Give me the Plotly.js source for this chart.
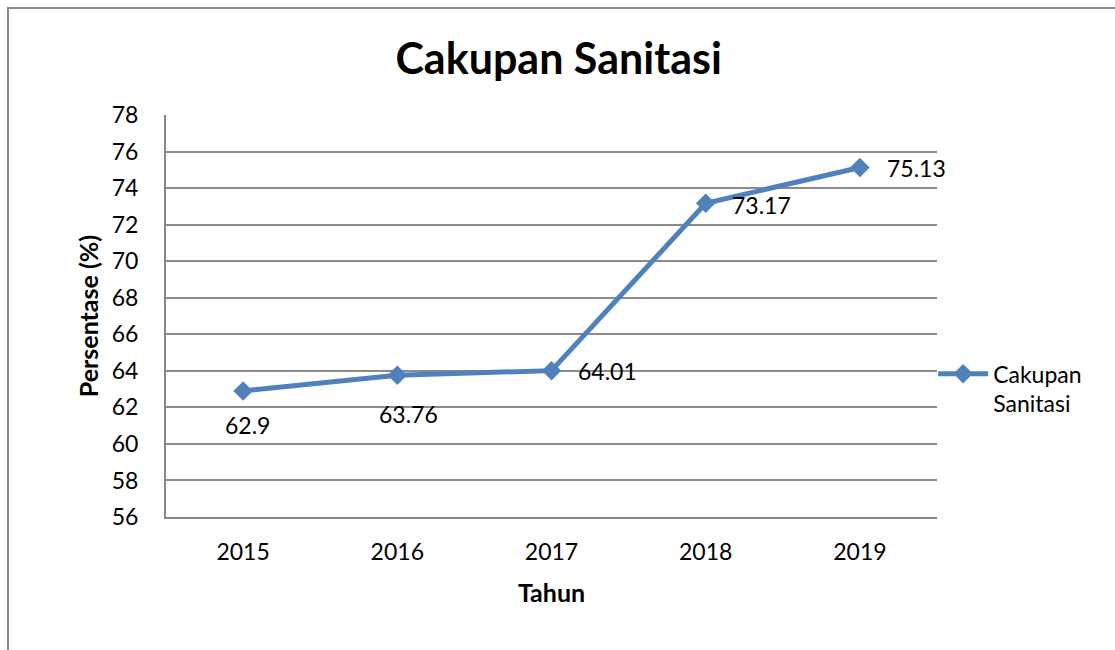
<!DOCTYPE html>
<html>
<head>
<meta charset="utf-8">
<script src="https://cdn.plot.ly/plotly-3.0.1.min.js"></script>
<style>
  html, body { margin: 0; padding: 0; background: #fff; }
  #wrap { position: relative; width: 1115px; height: 650px; }
  #frame { position: absolute; left: 7px; top: 7px; width: 1108px; height: 643px;
           border-left: 2px solid #888; border-top: 2px solid #888; box-sizing: border-box; pointer-events: none; z-index: 5; }
  #chart { position: absolute; left: 0; top: 0; width: 1115px; height: 650px; }
</style>
</head>
<body>
<div id="wrap">
  <div id="chart"></div>
  <div id="frame"></div>
</div>
<script>
const years = ['2015', '2016', '2017', '2018', '2019'];
const coverage = [62.9, 63.76, 64.01, 73.17, 75.13];
const seriesName = 'Cakupan<br>Sanitasi';
const yTicks = [56, 58, 60, 62, 64, 66, 68, 70, 72, 74, 76, 78];

// label placement (style only): anchor + pixel shifts
const labelStyle = [
  { xanchor: 'center', xshift: 4,  yshift: -34 },
  { xanchor: 'center', xshift: 11, yshift: -39 },
  { xanchor: 'left',   xshift: 24, yshift: 0 },
  { xanchor: 'left',   xshift: 24, yshift: -2 },
  { xanchor: 'left',   xshift: 25, yshift: -1 }
];

const font = 'Lato, "Open Sans", sans-serif';

const trace = {
  x: years,
  y: coverage,
  type: 'scatter',
  mode: 'lines+markers',
  name: seriesName,
  line: { color: '#4F81BD', width: 5 },
  marker: { symbol: 'diamond', size: 15, color: '#4F81BD' },
  cliponaxis: false
};

// category axis: annotation x is the category index of each year
const annotations = years.map((yr, i) => ({
  x: i,
  y: coverage[i],
  xref: 'x', yref: 'y',
  text: String(coverage[i]),
  showarrow: false,
  xanchor: labelStyle[i].xanchor,
  yanchor: 'middle',
  xshift: labelStyle[i].xshift,
  yshift: labelStyle[i].yshift,
  font: { family: font, size: 23, color: '#000' }
}));

const layout = {
  width: 1115,
  height: 650,
  margin: { l: 166, r: 178, t: 115, b: 133 },
  paper_bgcolor: '#fff',
  plot_bgcolor: '#fff',
  font: { family: font, size: 23, color: '#000' },
  title: {
    text: '<b>Cakupan Sanitasi</b>',
    font: { family: font, size: 43, color: '#000' },
    x: 0.501, xanchor: 'center',
    y: 0.91, yanchor: 'middle'
  },
  annotations: annotations,
  xaxis: {
    type: 'category',
    categoryarray: years,
    range: [-0.5, 4.5],
    showgrid: false,
    showline: true,
    linecolor: '#888',
    linewidth: 2,
    ticks: '',
    ticklabelstandoff: 13,
    tickfont: { family: font, size: 23, color: '#000' },
    title: { text: '<b>Tahun</b>', font: { family: font, size: 25, color: '#000' }, standoff: 21 },
    zeroline: false,
    fixedrange: true
  },
  yaxis: {
    range: [56, 78],
    tickvals: yTicks,
    ticktext: yTicks.map(String),
    showgrid: true,
    gridcolor: '#8c8c8c',
    gridwidth: 2,
    showline: true,
    linecolor: '#888',
    linewidth: 2,
    ticks: '',
    ticklabelstandoff: 21,
    tickfont: { family: font, size: 23, color: '#000' },
    title: { text: '<b>Persentase (%)</b>', font: { family: font, size: 25, color: '#000' }, standoff: 6 },
    zeroline: false,
    fixedrange: true
  },
  showlegend: true,
  legend: {
    x: 0.995, xanchor: 'left',
    y: 0.41, yanchor: 'top',
    valign: 'top',
    font: { family: font, size: 23, color: '#000' },
    bgcolor: 'rgba(0,0,0,0)',
    borderwidth: 0,
    itemwidth: 50,
    tracegroupgap: 0
  }
};

Plotly.newPlot('chart', [trace], layout, { displayModeBar: false, staticPlot: true });
</script>
</body>
</html>
